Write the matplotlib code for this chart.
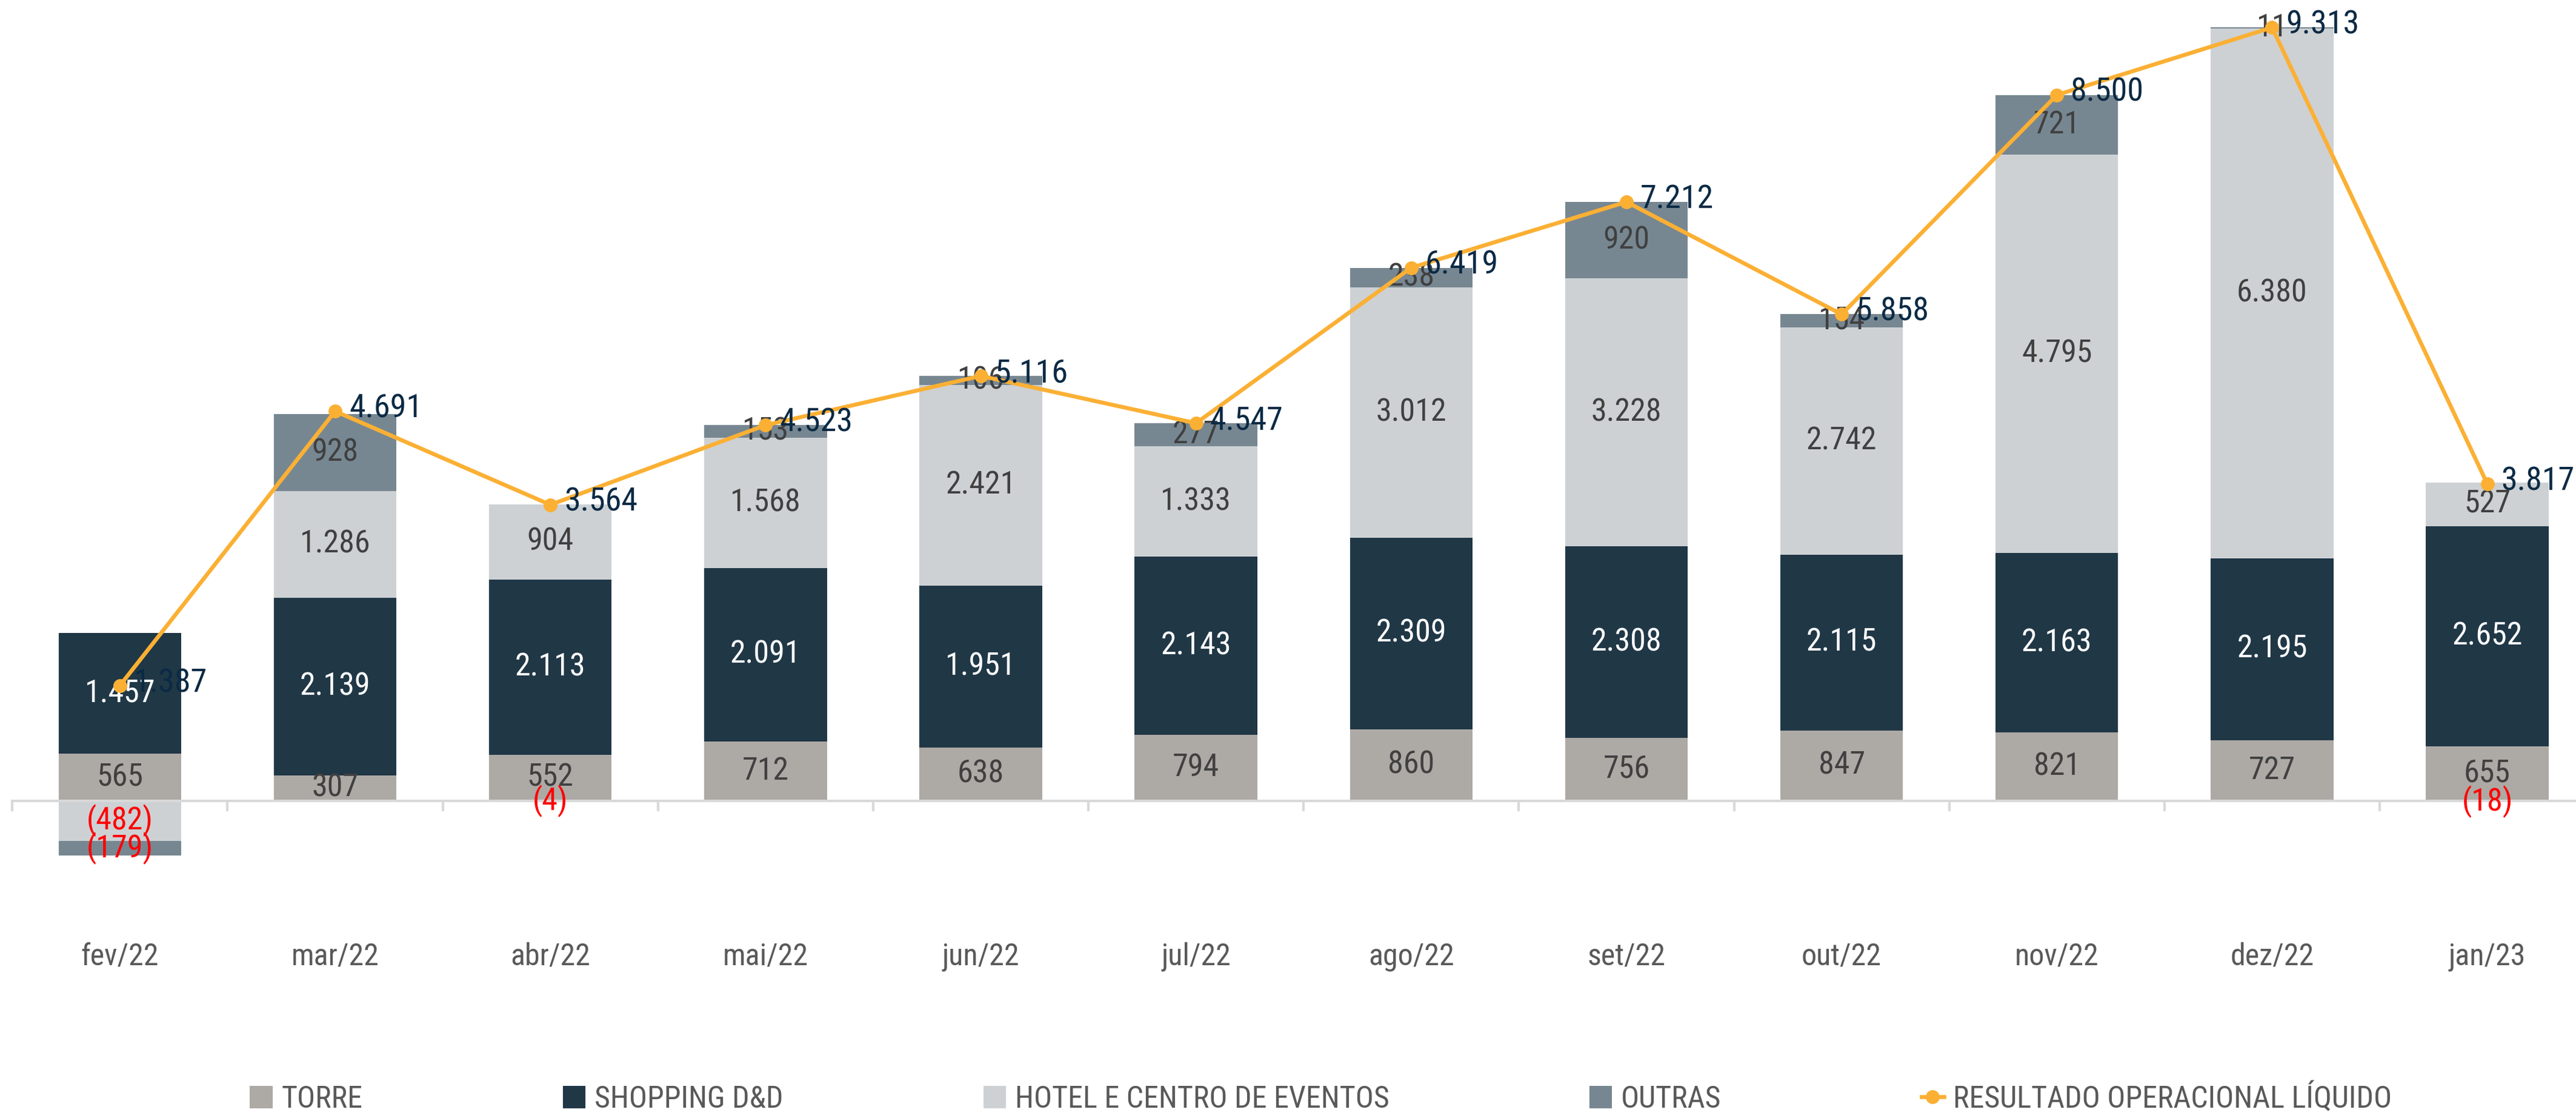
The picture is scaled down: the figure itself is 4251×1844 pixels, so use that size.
import matplotlib
matplotlib.use("Agg")
import matplotlib.pyplot as plt
from matplotlib import font_manager as fm
from matplotlib.patches import Patch
from matplotlib.lines import Line2D
import numpy as np

names = {f.name for f in fm.fontManager.ttflist}
FONT = 'Roboto Condensed' if 'Roboto Condensed' in names else 'Roboto'
plt.rcParams['font.family'] = [FONT, 'DejaVu Sans']

# data (R$ mil)
months = ['fev/22', 'mar/22', 'abr/22', 'mai/22', 'jun/22', 'jul/22',
          'ago/22', 'set/22', 'out/22', 'nov/22', 'dez/22', 'jan/23']
torre = [565, 307, 552, 712, 638, 794, 860, 756, 847, 821, 727, 655]
shopping = [1457, 2139, 2113, 2091, 1951, 2143, 2309, 2308, 2115, 2163, 2195, 2652]
hotel = [-482, 1286, 904, 1568, 2421, 1333, 3012, 3228, 2742, 4795, 6380, 527]
outras = [-179, 928, -4, 153, 106, 277, 238, 920, 154, 721, 11, -18]
resultado = [1387, 4691, 3564, 4523, 5116, 4547, 6419, 7212, 5858, 8500, 9313, 3817]

series = [
    ('TORRE', torre, '#ADA9A5', '#404040'),
    ('SHOPPING D&D', shopping, '#203746', 'white'),
    ('HOTEL E CENTRO DE EVENTOS', hotel, '#CDD1D4', '#404040'),
    ('OUTRAS', outras, '#778792', '#404040'),
]
line_color = '#FBB034'
line_label = 'RESULTADO OPERACIONAL LÍQUIDO'


def fmt(v):
    s = f"{abs(v):,}".replace(",", ".")
    return f"({s})" if v < 0 else s


fig = plt.figure(figsize=(4251 / 300, 1844 / 300), dpi=300)
ax = fig.add_axes([0.00478, 0.1947, 1.00255, 0.8053])

x = np.arange(len(months))
width = 0.57
pos_bottom = np.zeros(len(months))
neg_bottom = np.zeros(len(months))

for name, vals, color, tcolor in series:
    vals = np.array(vals, dtype=float)
    bottom = np.where(vals >= 0, pos_bottom, neg_bottom)
    ax.bar(x, vals, width, bottom=bottom, color=color, label=name, zorder=2)
    for xi, b, v in zip(x, bottom, vals):
        c = 'red' if v < 0 else tcolor
        ax.text(xi, b + v / 2, fmt(int(v)), ha='center', va='center',
                fontsize=12.5, color=c, zorder=3)
    pos_bottom = np.where(vals >= 0, pos_bottom + vals, pos_bottom)
    neg_bottom = np.where(vals < 0, neg_bottom + vals, neg_bottom)

ax.plot(x, resultado, color=line_color, lw=1.6, marker='o', ms=4.5,
        zorder=4, label=line_label)
for xi, v in zip(x, resultado):
    ax.annotate(fmt(v), (xi, v), xytext=(5.5, 1), textcoords='offset points',
                ha='left', va='center', fontsize=13, color='#0B2A44', zorder=5)

ax.set_xlim(-0.5, len(months) - 0.5)
ax.set_ylim(-1200, 9644)
for s in ['top', 'right', 'left']:
    ax.spines[s].set_visible(False)
ax.spines['bottom'].set_position(('data', 0))
ax.spines['bottom'].set_color('#D9D9D9')
ax.spines['bottom'].set_linewidth(1)
ax.set_yticks([])
ax.set_xticks(x)
ax.set_xticklabels(months, fontsize=12, color='#595959')
ax.tick_params(axis='x', which='major', length=0, pad=56)
ax.set_xticks(np.arange(-0.5, len(months), 1), minor=True)
ax.tick_params(axis='x', which='minor', length=4, width=1, color='#D9D9D9')

handles = [Patch(facecolor=c, label=n) for n, _, c, _ in series]
handles.append(Line2D([0], [0], color=line_color, lw=1.6, marker='o', ms=4.5,
                      label=line_label))
fig.legend(handles=handles, loc='center', bbox_to_anchor=(804 / 1568, 1 - 668 / 680),
           ncol=5, frameon=False, fontsize=12, labelcolor='#595959',
           handlelength=0.75, handleheight=0.75, handletextpad=0.3, columnspacing=6.6)

fig.savefig('out.png', dpi=300)
